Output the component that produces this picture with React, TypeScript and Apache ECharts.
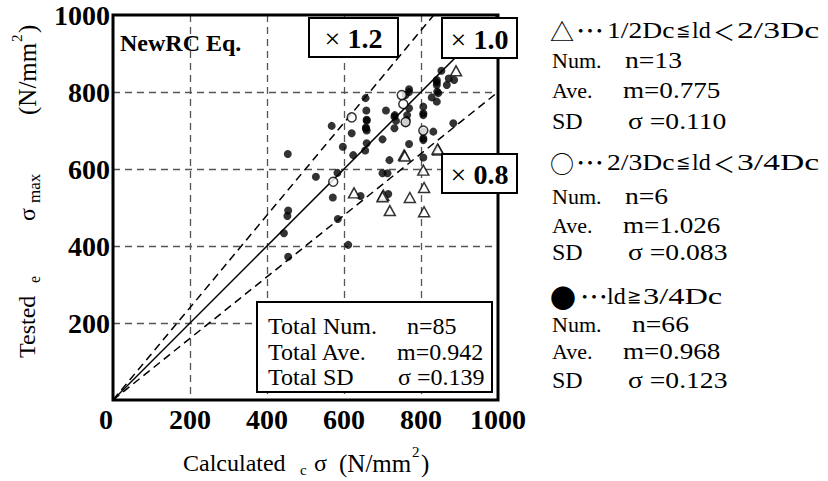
import React, { useEffect, useRef } from "react";
import * as echarts from "echarts";

const SERIF = '"Liberation Serif", "Times New Roman", "Noto Sans CJK JP", serif';
const CJK = '"Noto Sans CJK JP", "DejaVu Sans", sans-serif';
const SYM = '"DejaVu Sans", "Noto Sans CJK JP", sans-serif';

// ---- data ----
const axisTickValues = [0, 200, 400, 600, 800, 1000];

const filledPoints: [number, number][] = [
  [454, 639], [527, 580], [583, 590], [568, 712], [620, 693], [656, 784], [658, 752],
  [659, 726], [657, 708], [659, 700], [597, 658], [624, 636], [655, 648], [659, 667],
  [700, 677], [709, 752], [718, 623], [731, 736], [731, 706], [760, 792], [769, 807],
  [769, 758], [764, 740], [760, 719], [769, 665], [806, 762], [806, 740], [806, 697],
  [806, 680], [806, 630], [832, 697], [828, 786], [841, 775], [842, 801], [841, 831],
  [841, 818], [853, 855], [867, 818], [872, 835], [886, 831], [884, 719], [700, 589],
  [713, 589], [571, 526], [643, 530], [715, 535], [455, 492], [453, 478], [444, 433],
  [584, 470], [611, 403], [455, 372], [845, 797], [732, 740], [735, 725], [763, 727],
  [806, 675], [657, 705], [841, 825], [806, 745], [769, 800], [659, 728],
];
const openCirclePoints: [number, number][] = [
  [620, 734], [750, 792], [754, 769], [572, 567], [760, 722], [806, 700],
];
const trianglePoints: [number, number][] = [
  [891, 855], [756, 636], [806, 597], [845, 649], [626, 538], [702, 532], [719, 492],
  [771, 526], [808, 552], [808, 489], [700, 528], [758, 634], [843, 652],
];
const ratioValues = [1.2, 1.0, 0.8];
const ratioLabels = ["1.2", "1.0", "0.8"];

const totalLabels = ["Total Num.", "Total Ave.", "Total SD"];
const totalValues = ["n=85", "m=0.942", "σ =0.139"];

const groupSymbols = ["△", "○", "●"];
const groupNums = ["n=13", "n=6", "n=66"];
const groupAves = ["m=0.775", "m=1.026", "m=0.968"];
const groupSDs = ["σ =0.110", "σ =0.083", "σ =0.123"];

function t(x: number, y: number, text: string, fontSize: number, extra: any = {}) {
  const { align = "left", weight = "normal", family = SERIF, ...rest } = extra;
  return {
    type: "text",
    x,
    y,
    z: 100,
    ...rest,
    style: {
      text,
      fontSize,
      fontFamily: family,
      fontWeight: weight,
      fill: "#000",
      align,
      textAlign: align,
      verticalAlign: "middle",
      textVerticalAlign: "middle",
    },
  };
}

function buildGraphic() {
  const g: any[] = [];
  // ratio boxes
  const boxes = [
    { x: 309, y: 18, w: 89, h: 39 },
    { x: 442, y: 18, w: 75, h: 40 },
    { x: 442, y: 154, w: 75, h: 39 },
  ];
  boxes.forEach((b, i) => {
    g.push({
      type: "rect",
      z: 90,
      shape: { x: b.x, y: b.y, width: b.w, height: b.h },
      style: { fill: "#fff", stroke: "#000", lineWidth: 2 },
    });
    g.push({
      type: "text",
      z: 100,
      x: b.x + b.w / 2,
      y: b.y + b.h / 2 + 1,
      style: {
        text: "{a|×}{b| " + ratioLabels[i] + "}",
        align: "center",
        textAlign: "center",
        verticalAlign: "middle",
        textVerticalAlign: "middle",
        fill: "#000",
        rich: {
          a: { fontSize: 28, fontFamily: SERIF, fill: "#000" },
          b: { fontSize: 28, fontFamily: SERIF, fontWeight: "bold", fill: "#000" },
        },
      },
    });
  });
  // NewRC Eq.
  g.push(t(120, 43, "NewRC Eq.", 24, { weight: "bold" }));
  // stats box
  g.push({
    type: "rect",
    z: 90,
    shape: { x: 257, y: 302, width: 235, height: 90 },
    style: { fill: "#fff", stroke: "#000", lineWidth: 2 },
  });
  const sy = [326, 352, 377];
  const sx = [407, 397, 398];
  totalLabels.forEach((s, i) => {
    g.push(t(268, sy[i], s, 24));
    g.push(t(sx[i], sy[i], totalValues[i], 24));
  });
  // legend groups: [text, x, scaleX, kind]
  const heads: [string, number, number, string][][] = [
    [["1/2Dc", 607, 1.15, "t"], ["≦", 676, 1, "s"], ["ld", 692, 1, "t"], ["＜", 713, 1, "c"], ["2/3Dc", 737, 1.4, "t"]],
    [["2/3Dc", 607, 1.15, "t"], ["≦", 676, 1, "s"], ["ld", 692, 1, "t"], ["＜", 713, 1, "c"], ["3/4Dc", 737, 1.4, "t"]],
    [["ld", 607, 1, "t"], ["≧", 627, 1, "s"], ["3/4Dc", 643, 1.35, "t"]],
  ];
  const gy = [
    [30, 60, 90, 121],
    [162, 196, 225, 252],
    [296, 324, 351, 380],
  ];
  groupSymbols.forEach((sym, i) => {
    const ys = gy[i];
    g.push(t(550, ys[0], sym, i === 2 ? 26 : 24, { family: CJK }));
    g.push(t(i === 2 ? 580 : 576, ys[0], "⋯", 28, { family: CJK }));
    heads[i].forEach(([s, x, sc, kind]) => {
      if (kind === "s") g.push(t(x, ys[0], s, 17, { family: SYM }));
      else if (kind === "c") g.push(t(x, ys[0], s, 22, { family: CJK }));
      else g.push(t(x, ys[0], s, 24, { scaleX: sc }));
    });
    g.push(t(552, ys[1], "Num.", 22));
    g.push(t(i === 2 ? 632 : 625, ys[1], groupNums[i], 24, { scaleX: 1.15 }));
    g.push(t(552, ys[2], "Ave.", 22));
    g.push(t(623, ys[2], groupAves[i], 24, { scaleX: 1.13 }));
    g.push(t(552, ys[3], "SD", 24));
    g.push(t(628, ys[3], groupSDs[i], 24, { scaleX: 1.15 }));
  });
  // x axis name
  g.push(t(183, 463, "Calculated", 24));
  g.push(t(300, 470, "c", 15));
  g.push(t(314, 463, "σ", 24));
  g.push(t(339, 463, "(N/mm", 25));
  g.push(t(412, 452, "2", 15));
  g.push(t(421, 463, ")", 25));
  // y axis name (rotated, reading upward)
  g.push({
    type: "group",
    x: 27,
    y: 358,
    rotation: Math.PI / 2,
    children: [
      t(0, 0, "Tested", 24),
      t(75, 7, "e", 16),
      t(137, 0, "σ", 24),
      t(155, 7, "max", 17),
      t(243, 0, "(N/mm", 25),
      t(316, -10, "2", 15),
      t(325, 0, ")", 25),
    ],
  });
  return g;
}

export default function App() {
  const ref = useRef<HTMLDivElement>(null);
  useEffect(() => {
    if (!ref.current) return;
    const chart = echarts.init(ref.current, null, { renderer: "svg" });
    const axisCommon = {
      type: "value",
      min: axisTickValues[0],
      max: axisTickValues[axisTickValues.length - 1],
      interval: 200,
      axisLine: { show: false },
      axisTick: { show: false },
      splitLine: {
        show: true,
        showMinLine: false,
        showMaxLine: false,
        lineStyle: { color: "#555", width: 1.3, type: [7, 5] },
      },
    };
    const ratioSeries = ratioValues.map((r) => ({
      type: "line",
      data: [
        [0, 0],
        [Math.min(1000, 1000 / r), Math.min(1000, 1000 * r)],
      ],
      symbol: "none",
      z: 3,
      lineStyle: { color: "#000", width: 1.5, type: r === 1 ? "solid" : [8, 5] },
      silent: true,
    }));
    chart.setOption({
      animation: false,
      backgroundColor: "#fff",
      grid: {
        left: 113,
        top: 15,
        width: 385,
        height: 385,
        show: true,
        borderColor: "#000",
        borderWidth: 3,
        backgroundColor: "transparent",
        z: 5,
      },
      xAxis: {
        ...axisCommon,
        axisLabel: {
          margin: 5,
          fontFamily: SERIF,
          fontSize: 28,
          fontWeight: "bold",
          color: "#000",
          formatter: (v: number) => (v === 0 ? "{z|0}" : String(v)),
          rich: { z: { fontFamily: SERIF, fontSize: 28, fontWeight: "bold", color: "#000", padding: [0, 14, 0, 0] } },
        },
      },
      yAxis: {
        ...axisCommon,
        axisLabel: {
          margin: 3,
          showMinLabel: false,
          fontFamily: SERIF,
          fontSize: 28,
          fontWeight: "bold",
          color: "#000",
          formatter: (v: number) => String(v),
        },
      },
      series: [
        ...ratioSeries,
        {
          type: "scatter",
          data: filledPoints,
          symbol: "circle",
          symbolSize: 8,
          itemStyle: { color: "#000" },
          z: 4,
        },
        {
          type: "scatter",
          data: openCirclePoints,
          symbol: "circle",
          symbolSize: 9,
          itemStyle: { color: "#fff", borderColor: "#000", borderWidth: 1.5 },
          z: 4,
        },
        {
          type: "scatter",
          data: trianglePoints,
          symbol: "triangle",
          symbolSize: [11, 10],
          itemStyle: { color: "#fff", borderColor: "#000", borderWidth: 1.5 },
          z: 4,
        },
      ],
      graphic: buildGraphic(),
    });
    return () => chart.dispose();
  }, []);
  return (
    <div
      ref={ref}
      style={{ position: "absolute", left: 0, top: 0, width: 828, height: 481, background: "#fff" }}
    />
  );
}
